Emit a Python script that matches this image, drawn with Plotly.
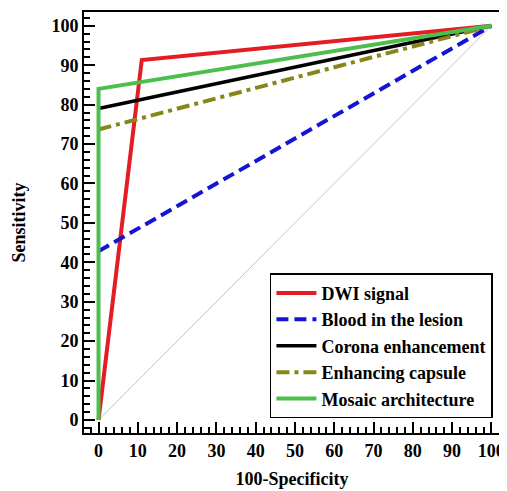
import plotly.graph_objects as go

names = ["DWI signal", "Blood in the lesion", "Corona enhancement", "Enhancing capsule", "Mosaic architecture"]
x_dwi = [0, 11, 100]
y_dwi = [0, 91.3, 100]
x_blood = [0, 100]
y_blood = [42.8, 100]
x_corona = [0, 100]
y_corona = [79.0, 100]
x_capsule = [0, 100]
y_capsule = [73.7, 100]
x_mosaic = [0, 0, 100]
y_mosaic = [0, 84.0, 100]
diag = [0, 100]
tick_vals = [0, 10, 20, 30, 40, 50, 60, 70, 80, 90, 100]

FONT = "Liberation Serif, Times New Roman, serif"
fig = go.Figure()
fig.add_trace(go.Scatter(x=diag, y=diag, mode="lines", line=dict(color="#c4c4c4", width=1), showlegend=False, hoverinfo="skip"))
series = [
    (x_dwi, y_dwi, "rgb(228,28,36)", "solid", 4),
    (x_blood, y_blood, "rgb(20,20,210)", "12px,6px", 4),
    (x_corona, y_corona, "black", "solid", 3.5),
    (x_capsule, y_capsule, "rgb(135,135,25)", "13px,5px,4px,5px", 4),
    (x_mosaic, y_mosaic, "rgb(76,190,76)", "solid", 4),
]
for (xs, ys, c, d, w), n in zip(series, names):
    fig.add_trace(go.Scatter(x=xs, y=ys, mode="lines", name=n, line=dict(color=c, dash=d, width=w)))

axis_common = dict(
    showgrid=False, zeroline=False, showline=True, linecolor="black", linewidth=2,
    mirror=True, ticks="inside", ticklen=11, tickwidth=2, tickcolor="black",
    tickvals=tick_vals,
    tickfont=dict(family=FONT, size=18, color="black", weight="bold"),
    minor=dict(ticks="inside", ticklen=6, tickwidth=1.5, tickcolor="black", dtick=2),
)
fig.update_xaxes(range=[-3.7, 102.2], title=dict(text="100-Specificity", font=dict(family=FONT, size=18, color="black", weight="bold"), standoff=13), **axis_common)
fig.update_yaxes(range=[-3.3, 103.5], title=dict(text="Sensitivity", font=dict(family=FONT, size=18, color="black", weight="bold"), standoff=21), **axis_common)

fig.update_layout(
    width=499, height=483,
    margin=dict(l=76, r=5, t=2, b=58),
    plot_bgcolor="white", paper_bgcolor="white",
    legend=dict(x=0.983, y=0.035, xanchor="right", yanchor="bottom",
                bordercolor="black", borderwidth=1.5, bgcolor="white",
                font=dict(family=FONT, size=18, color="black", weight="bold"),
                tracegroupgap=0, itemwidth=40),
)
fig.write_html("out.html")
